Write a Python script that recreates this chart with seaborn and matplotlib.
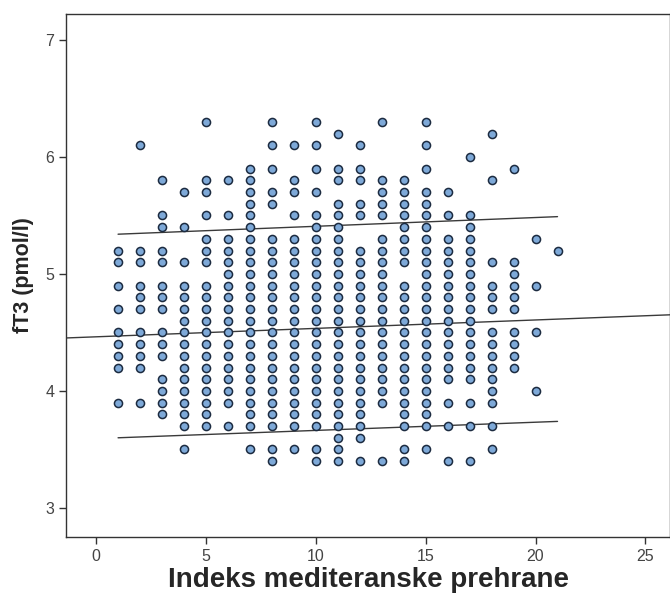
import seaborn as sns
import matplotlib.pyplot as plt
import numpy as np
import pandas as pd

# y values present in each column (index value 1..21)
def run(hi, lo):
    return [round(v, 1) for v in np.arange(hi, lo - 0.05, -0.1)]

col_1 = [5.2, 5.1, 4.9, 4.7, 4.5, 4.4, 4.3, 4.2, 3.9]
col_2 = [6.1, 5.2, 5.1, 4.9, 4.8, 4.7, 4.5, 4.4, 4.3, 4.2, 3.9]
col_3 = [5.8, 5.5, 5.4, 5.2, 5.1, 4.9, 4.8, 4.7, 4.5, 4.4, 4.3, 4.1, 4.0, 3.9, 3.8]
col_4 = [5.7, 5.4, 5.1] + run(4.9, 3.7) + [3.5]
col_5 = [6.3, 5.8, 5.7, 5.5, 5.3, 5.2, 5.1] + run(4.9, 3.7)
col_6 = [5.8, 5.5] + run(5.3, 3.9) + [3.7]
col_7 = run(5.9, 3.7) + [3.5]
col_8 = [6.3, 6.1, 5.9, 5.7, 5.6] + run(5.3, 3.7) + [3.5, 3.4]
col_9 = [6.1, 5.8, 5.7, 5.5] + run(5.3, 3.7) + [3.5]
col_10 = [6.3, 6.1, 5.9, 5.7, 5.5, 5.4] + run(5.3, 3.7) + [3.5, 3.4]
col_11 = [6.2, 5.9, 5.8, 5.6, 5.5, 5.4] + run(5.3, 3.4)
col_12 = [6.1, 5.9, 5.8, 5.6, 5.5] + run(5.2, 3.6) + [3.4]
col_13 = [6.3, 5.8, 5.7, 5.6, 5.5] + run(5.3, 3.9) + [3.4]
col_14 = run(5.8, 5.1) + run(4.9, 3.7) + [3.5, 3.4]
col_15 = [6.3, 6.1, 5.9] + run(5.7, 3.7) + [3.5]
col_16 = [5.7, 5.5] + run(5.3, 4.1) + [3.9, 3.7, 3.4]
col_17 = [6.0] + run(5.5, 4.1) + [3.9, 3.7, 3.4]
col_18 = [6.2, 5.8, 5.1, 4.9, 4.8, 4.7] + run(4.5, 3.9) + [3.7, 3.5]
col_19 = [5.9, 5.1, 5.0, 4.9, 4.8, 4.7, 4.5, 4.4, 4.3, 4.2]
col_20 = [5.3, 4.9, 4.5, 4.0]
col_21 = [5.2]

columns = [col_1, col_2, col_3, col_4, col_5, col_6, col_7, col_8, col_9, col_10,
           col_11, col_12, col_13, col_14, col_15, col_16, col_17, col_18, col_19,
           col_20, col_21]

# fit line and 95% prediction interval
fit_intercept = 4.463
fit_slope = 0.0072
pi_x = [1, 21]
pi_upper = [5.34, 5.49]
pi_lower = [3.60, 3.74]

rows = []
for i, ys in enumerate(columns, start=1):
    for y in ys:
        rows.append((i, y))
df = pd.DataFrame(rows, columns=['index', 'ft3'])

xlim = (-1.37, 26.12)
ylim = (2.752, 7.222)

sns.set_style('white')
plt.rcParams['font.family'] = ['Liberation Sans', 'DejaVu Sans']
fig = plt.figure(figsize=(6.7, 5.96), dpi=100)
ax = fig.add_axes([66 / 670, 1 - 537 / 596, 604 / 670, 523 / 596])

fit_x = np.array(xlim)
ax.plot(fit_x, fit_intercept + fit_slope * fit_x, color='#3a3a3a', lw=1.0, zorder=1)
ax.plot(pi_x, pi_upper, color='#3a3a3a', lw=1.0, zorder=1)
ax.plot(pi_x, pi_lower, color='#3a3a3a', lw=1.0, zorder=1)

sns.scatterplot(data=df, x='index', y='ft3', ax=ax, s=34, color='#7ea9d8',
                edgecolor='#1c2b40', linewidth=1.1, zorder=3)

ax.set_xlim(*xlim)
ax.set_ylim(*ylim)
ax.set_xticks([0, 5, 10, 15, 20, 25])
ax.set_yticks([3, 4, 5, 6, 7])
ax.tick_params(axis='both', direction='out', length=5, width=1, color='#333333',
               labelsize=11.5, labelcolor='#444444', bottom=True, left=True)
for s in ax.spines.values():
    s.set_color('#333333')
    s.set_linewidth(1.0)

ax.set_xlabel('Indeks mediteranske prehrane', fontsize=20, fontweight='bold',
              labelpad=2)
ax.set_ylabel('fT3 (pmol/l)', fontsize=15.5, fontweight='bold', labelpad=8)

fig.savefig('out.png', dpi=100)
